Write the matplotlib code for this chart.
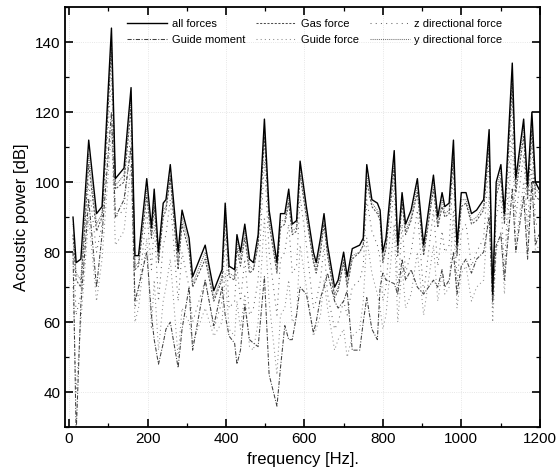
import matplotlib
matplotlib.use('Agg')
import matplotlib.pyplot as plt
from matplotlib.ticker import MultipleLocator

plt.rcParams['font.family'] = ['Liberation Sans', 'DejaVu Sans']

# frequency points [Hz]
freq = [10, 18, 30, 50, 70, 84, 108, 118, 140, 158,
        168, 177, 198, 210, 217, 228, 240, 247, 258, 278,
        288, 306, 315, 347, 369, 390, 398, 408, 422, 428,
        437, 448, 460, 470, 482, 498, 510, 530, 539, 550,
        560, 569, 580, 589, 605, 623, 630, 641, 650, 659,
        677, 686, 700, 709, 722, 741, 750, 759, 772, 786,
        793, 800, 808, 829, 838, 849, 858, 872, 888, 904,
        929, 940, 951, 958, 969, 980, 989, 1000, 1012, 1026,
        1039, 1057, 1071, 1080, 1089, 1101, 1110, 1130, 1139, 1159,
        1169, 1180, 1189, 1198]

all_forces = [90, 77, 78, 112, 91, 93, 144, 101, 104, 127,
              79, 79, 101, 87, 98, 80, 94, 95, 105, 80,
              92, 84, 73, 82, 69, 75, 94, 76, 75, 85,
              80, 88, 78, 77, 85, 118, 92, 77, 91, 91,
              98, 88, 89, 106, 93, 80, 77, 84, 91, 82,
              70, 72, 80, 73, 81, 82, 84, 105, 95, 94,
              92, 80, 84, 109, 82, 97, 88, 92, 101, 82,
              102, 90, 97, 93, 94, 112, 82, 97, 97, 91,
              92, 95, 115, 68, 100, 105, 91, 134, 101, 118,
              99, 120, 100, 98]

gas_force = [85, 72, 70, 105, 86, 90, 138, 98, 100, 121,
             75, 76, 96, 84, 93, 77, 90, 92, 101, 75,
             88, 80, 70, 78, 66, 72, 90, 73, 72, 81,
             76, 84, 74, 75, 82, 113, 88, 74, 87, 88,
             94, 85, 86, 102, 90, 77, 74, 80, 88, 79,
             67, 69, 77, 70, 78, 80, 82, 100, 93, 91,
             89, 77, 81, 104, 79, 94, 85, 89, 97, 79,
             98, 87, 93, 90, 91, 107, 79, 93, 94, 88,
             89, 92, 110, 66, 96, 101, 88, 128, 97, 113,
             95, 115, 96, 95]

guide_moment = [80, 28, 65, 95, 70, 85, 120, 90, 95, 110,
                66, 70, 80, 62, 55, 48, 54, 58, 60, 47,
                58, 70, 52, 72, 59, 70, 62, 56, 54, 48,
                52, 65, 55, 54, 53, 73, 45, 36, 47, 59,
                55, 55, 62, 70, 68, 57, 60, 67, 70, 74,
                66, 64, 66, 69, 52, 52, 60, 67, 58, 55,
                70, 74, 72, 71, 68, 78, 72, 75, 70, 68,
                72, 70, 75, 70, 72, 80, 68, 76, 78, 74,
                78, 80, 90, 66, 82, 85, 72, 98, 80, 96,
                78, 100, 82, 85]

z_force = [84, 62, 68, 100, 80, 88, 130, 90, 92, 115,
           64, 68, 92, 75, 88, 66, 82, 85, 95, 66,
           80, 70, 60, 72, 58, 66, 85, 64, 66, 76,
           66, 78, 62, 64, 72, 106, 80, 62, 78, 80,
           88, 74, 76, 96, 82, 64, 66, 72, 82, 68,
           58, 60, 66, 62, 70, 72, 76, 95, 86, 82,
           78, 66, 70, 100, 68, 88, 74, 80, 92, 68,
           92, 76, 86, 80, 82, 104, 70, 86, 88, 76,
           80, 84, 106, 64, 90, 96, 74, 124, 90, 108,
           86, 112, 88, 88]

guide_force = [70, 40, 60, 90, 66, 78, 115, 82, 86, 105,
               60, 64, 84, 58, 72, 52, 66, 70, 78, 50,
               64, 60, 54, 64, 56, 60, 74, 58, 56, 66,
               58, 68, 53, 52, 60, 90, 66, 45, 62, 64,
               72, 60, 62, 82, 70, 56, 58, 62, 72, 64,
               52, 55, 58, 50, 56, 58, 66, 84, 74, 68,
               64, 58, 62, 88, 60, 76, 64, 68, 80, 62,
               82, 66, 74, 68, 70, 92, 64, 74, 76, 66,
               70, 72, 96, 60, 80, 86, 68, 114, 82, 100,
               80, 104, 80, 82]

y_force = [88, 74, 72, 108, 88, 91, 140, 99, 102, 124,
           76, 77, 98, 85, 95, 78, 92, 93, 102, 77,
           90, 82, 71, 80, 67, 73, 92, 74, 73, 83,
           78, 86, 76, 75, 83, 115, 90, 75, 89, 89,
           96, 86, 87, 104, 91, 78, 75, 82, 89, 80,
           68, 70, 78, 71, 79, 80, 82, 102, 94, 92,
           90, 78, 82, 106, 80, 95, 86, 90, 99, 80,
           100, 88, 95, 91, 92, 109, 80, 95, 95, 89,
           90, 93, 112, 67, 98, 103, 89, 131, 99, 116,
           97, 118, 98, 97]

fig = plt.figure(figsize=(5.57, 4.72), dpi=100)
ax = fig.add_axes([0.117, 0.095, 0.852, 0.89])

# lower series first, all forces on top
l_gf, = ax.plot(freq, guide_force, color='0.55', lw=0.75, dashes=(1, 3))
l_z, = ax.plot(freq, z_force, color='0.4', lw=0.75, dashes=(1, 4))
l_gm, = ax.plot(freq, guide_moment, color='0.25', lw=0.75, dashes=(4, 1.5, 1, 1.5))
l_y, = ax.plot(freq, y_force, color='0.45', lw=0.75, dashes=(1, 1))
l_gas, = ax.plot(freq, gas_force, color='0.3', lw=0.75, dashes=(2, 1.5))
l_all, = ax.plot(freq, all_forces, color='black', lw=1.0)

ax.set_xlim(-10, 1200)
ax.set_ylim(30, 150)
ax.xaxis.set_major_locator(MultipleLocator(200))
ax.xaxis.set_minor_locator(MultipleLocator(100))
ax.yaxis.set_major_locator(MultipleLocator(20))
ax.yaxis.set_minor_locator(MultipleLocator(10))
ax.tick_params(which='both', direction='in', top=True, right=True, labelsize=11)
ax.tick_params(which='major', length=6, width=1.2)
ax.tick_params(which='minor', length=3, width=0.9)
for s in ax.spines.values():
    s.set_linewidth(1.3)

ax.grid(True, which='major', color='0.75', ls=':', lw=0.6, alpha=0.5)

ax.set_xlabel('frequency [Hz].', fontsize=12)
ax.set_ylabel('Acoustic power [dB]', fontsize=12)

ax.legend([l_all, l_gm, l_gas, l_gf, l_z, l_y],
          ['all forces', 'Guide moment', 'Gas force', 'Guide force',
           'z directional force', 'y directional force'],
          ncol=3, loc='upper left', bbox_to_anchor=(0.11, 0.995),
          frameon=False, fontsize=8, handlelength=3.6,
          columnspacing=1.0, handletextpad=0.4, labelspacing=0.55)

plt.savefig('out.png', dpi=100)
